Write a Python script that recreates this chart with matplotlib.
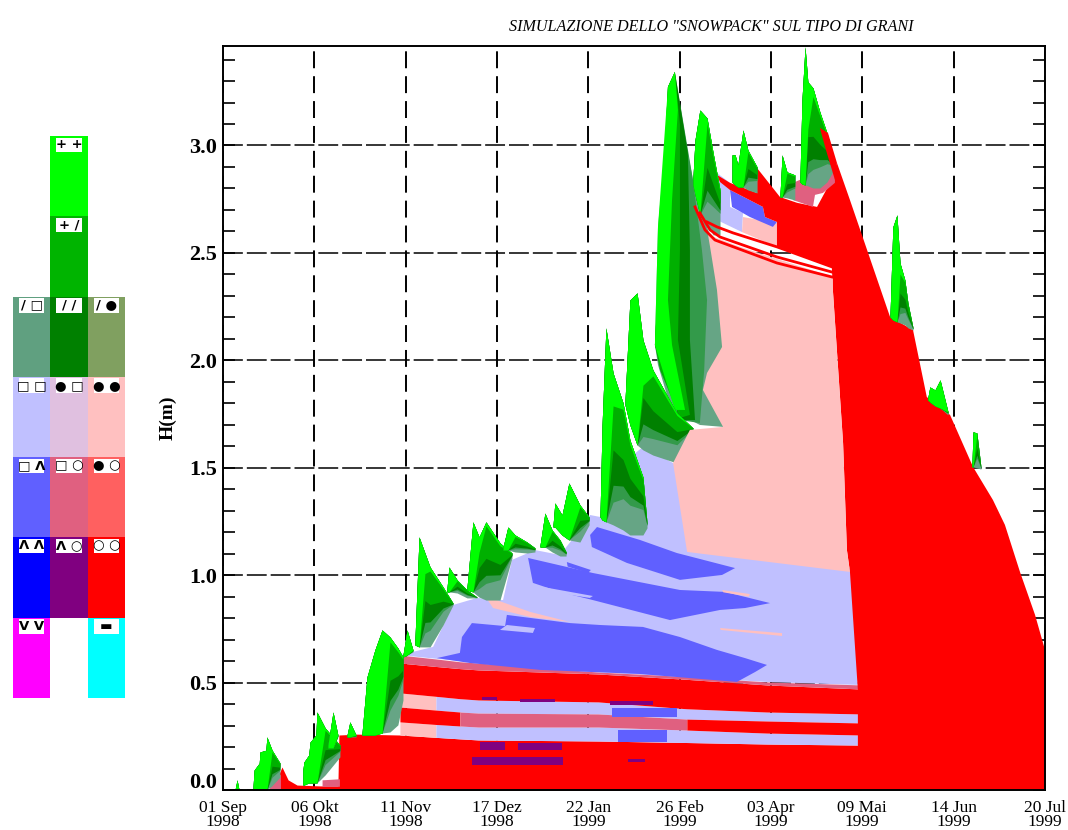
import numpy as np
import matplotlib
matplotlib.use("Agg")
import matplotlib.pyplot as plt
from matplotlib.ticker import MultipleLocator
from matplotlib.transforms import Affine2D

# ====== DATA (x = days since 01 Sep 1998, y = snow height in m) ======
tick_days = [0, 35.8, 71.6, 107.3, 143.1, 178.9, 214.7, 250.4, 286.2, 322]
tick_labels = ["01 Sep\n1998", "06 Okt\n1998", "11 Nov\n1998", "17 Dez\n1998", "22 Jan\n1999",
               "26 Feb\n1999", "03 Apr\n1999", "09 Mai\n1999", "14 Jun\n1999", "20 Jul\n1999"]
title = 'SIMULAZIONE DELLO "SNOWPACK" SUL TIPO DI GRANI'

# layer boundaries of the old snow at the bottom
band_days = np.array([69.3, 83.4, 92.8, 100, 147, 181.7, 213, 250])
b1 = np.array([.256, .245, .238, .233, .228, .221, .214, .209])
b2 = np.array([.317, .305, .298, .293, .293, .279, .265, .256])
b3 = np.array([.386, .372, .363, .358, .354, .330, .321, .312])
b4 = np.array([.452, .436, .425, .419, .410, .378, .363, .354])
b5 = np.array([.591, .575, .565, .559, .540, .515, .489, .470])
b6 = np.array([.628, .610, .597, .591, .549, .528, .503, .489])

early_days = [19.2, 23.1, 25.5, 29, 38, 45, 45.4, 52.5]
early_h = [0, .107, .047, .023, .019, .019, .256, .26]

lav_x = [69.3, 82.3, 90.1, 99.5, 109.7, 113.2, 122.2, 132.0, 139.8, 143.8, 147.7, 158.2, 164.5, 176.3, 186.8,
         248.7, 248.7, 213, 147, 100]
lav_h = [.628, .666, .861, .894, .884, 1.071, 1.117, 1.094, 1.210, 1.280, 1.271, 1.536, 1.597, 1.522, 1.35,
         1.015, .489, .503, .549, .591]

blue_a_x = [83.8, 92.8, 93.6, 97.5, 110.5, 111.2, 135.9, 147.7, 164.5, 179.0, 193.5, 204.5, 213.1, 208.4, 201.3, 163.3, 124.2, 96.8]
blue_a_h = [.614, .638, .712, .777, .763, .815, .777, .768, .759, .712, .652, .614, .582, .549, .503, .540, .559, .591]
blue_b_x = [119.5, 144.9, 179.0, 196.6, 214.3, 204.5, 194.7, 175.1, 144.9, 132.0, 121.4]
blue_b_h = [1.080, 1.010, .931, .922, .870, .847, .838, .791, .884, .922, .964]
blue_c_x = [146.5, 163.3, 177.8, 200.6, 195.5, 179.0, 158.2, 144.5, 143.8]
blue_c_h = [1.224, 1.164, 1.103, 1.033, 1.001, .978, 1.057, 1.131, 1.187]
blue_d_x = [134.7, 144.1, 143, 135]
blue_d_h = [1.061, 1.024, 1.01, 1.04]
blue_top_x = [198.6, 211.5, 212.3, 217, 215.4, 206.4, 199.4]
blue_top_h = [2.793, 2.714, 2.667, 2.644, 2.621, 2.667, 2.714]

lav2_x = [111.2, 122.2, 121.4, 108.5]
lav2_h = [.768, .754, .731, .745]
lav3_x = [125.3, 144.9, 143.7, 128.0]
lav3_h = [.945, .903, .894, .922]
lav_top_x = [193.5, 198.6, 198.6, 203.7, 203.3, 193.5]
lav_top_h = [2.872, 2.826, 2.714, 2.686, 2.597, 2.653]

salmon_a_x = [102.6, 120.3, 135.9, 120.3, 105.8]
salmon_a_h = [.903, .829, .782, .805, .847]
salmon_b_x = [195.5, 206.4, 206, 196]
salmon_b_h = [.931, .912, .90, .92]
salmon_c_x = [194.7, 219, 219, 195]
salmon_c_h = [.754, .73, .717, .745]
salmon_top_x = [203.7, 217, 217, 203.3]
salmon_top_h = [2.667, 2.639, 2.528, 2.597]

pink_x = [176.3, 182.9, 195.9, 188, 189.6, 195.5, 193.5, 190.8, 190, 202.5, 238.9, 238.9, 242.9, 244.4, 245.6, 181.8]
pink_h = [1.522, 1.676, 1.690, 1.862, 1.941, 2.062, 2.328, 2.528, 2.584, 2.528, 2.388, 2.328, 1.615, 1.117, 1.015, 1.108]

line1_x = [189.6, 193.5, 199.8, 217.0, 238.5]
line1_h = [2.644, 2.621, 2.593, 2.528, 2.435]
line2_x = [186.8, 190.8, 194.7, 217, 238.5]
line2_h = [2.686, 2.607, 2.574, 2.481, 2.411]
line3_x = [184.9, 188.8, 192.7, 217, 238.5]
line3_h = [2.714, 2.607, 2.560, 2.453, 2.388]

red_x = [193.5, 198.6, 209.2, 209.2, 218.2, 224.9, 232.7, 237.8, 240.5, 245.6, 261.3, 270.3, 275.7, 284.8, 293.8,
         301.6, 306.3, 312.2, 318.1, 322, 322, 248.7, 248.7, 245.6, 244.4, 242.9, 238.9, 238.5, 217, 217, 212.3,
         211.5, 198.6, 194.7]
red_h = [2.863, 2.826, 2.779, 2.895, 2.760, 2.733, 2.714, 2.826, 2.919, 2.746, 2.202, 2.141, 1.829, 1.746, 1.504,
         1.350, 1.234, 1.015, .815, .652, 0, 0, .466, 1.015, 1.117, 1.615, 2.328, 2.435, 2.528, 2.644, 2.667,
         2.714, 2.793, 2.830]
red_strip_x = [233.8, 237, 240.5, 239.7, 236.2]
red_strip_h = [3.082, 3.058, 2.919, 2.840, 2.979]

rose_top_x = [223.3, 226, 233.8, 237.8, 239.7, 239.7, 235, 231.9, 231.1, 223.3]
rose_top_h = [2.826, 2.840, 2.802, 2.872, 2.900, 2.826, 2.779, 2.770, 2.714, 2.746]
rose_a_x = [18.4, 22.7, 22.7, 18.4]
rose_a_h = [.056, .07, 0, 0]
rose_b_x = [39, 45.8, 45.8, 39]
rose_b_h = [.045, .05, .015, .015]

# small patches: day from, day to, H from, H to
purple_patches = [(101.5, 107.3, .419, .433), (100.7, 110.5, .186, .223), (97.5, 115.2, .116, .154),
                  (116.3, 130.0, .410, .424), (151.6, 168.4, .396, .414), (115.6, 132.8, .186, .219),
                  (114.4, 133.2, .116, .154), (158.6, 165.3, .130, .144)]
blue_patches = [(152.4, 177.8, .340, .382), (154.7, 173.9, .223, .279)]

# new snow peaks: days, surface, lower limit
peak_days = [
    [4.7, 5.5, 6.3], [11.8, 12.2, 14.2, 14.5, 16.8, 17.2, 19.2, 22.3],
    [31.3, 31.7, 33.6, 34.1, 36.4, 36.8, 40.0, 45.8], [41.1, 43.1, 45.0],
    [48.6, 49.7, 52.1], [54.4, 56.4, 59.5, 62.3, 65.4, 68.5, 70.5], [70.5, 72.1, 74.4],
    [75.2, 76.8, 79.1, 81.1, 86.2, 90.1], [87.7, 88.5, 91.7, 95.6, 99.5], [95.6, 97.9, 100.3, 103, 108.5, 113.2],
    [109.7, 111.6, 114.4, 119.1, 122.2], [124.2, 126.1, 128.9, 132, 134.4], [129.3, 130, 132.8, 135.5, 139.8, 143.4],
    [157.5, 159.4, 162.2, 164.5, 168.4, 177.8, 184.1],
    [147.7, 148.5, 150, 152.8, 156.7, 159.4, 164.5, 166.1],
    [184.1, 184.9, 186.8, 189.6, 192, 194.7], [199.4, 200.6, 201.7, 203.7, 205.6, 209.2],
    [218.2, 219, 220.9, 224], [226, 226.8, 228, 229.1, 231.1, 233.8, 236.6, 239.7],
    [261.3, 262.4, 264, 265.2, 267.1, 268.3, 270.3], [276.1, 276.9, 278.9, 280.9, 284], [293.4, 293.8, 295.3, 296.9],
]
peak_top = [
    [0, .047, 0], [.02, .093, .125, .177, .185, .247, .186, .126],
    [.093, .130, .163, .223, .256, .363, .289, .209], [.209, .363, .256],
    [.256, .317, .256], [.256, .526, .652, .745, .712, .661, .619], [.628, .745, .652],
    [.698, 1.178, 1.103, 1.038, .945, .870], [.931, 1.038, .978, .931, .898], [.945, 1.248, 1.178, 1.248, 1.150, 1.103],
    [1.131, 1.224, 1.187, 1.154, 1.127], [1.140, 1.289, 1.210, 1.164, 1.108], [1.234, 1.336, 1.280, 1.429, 1.327, 1.271],
    [1.815, 2.281, 2.314, 2.095, 1.955, 1.755, 1.685],
    [1.280, 1.699, 2.151, 1.941, 1.802, 1.629, 1.457, 1.243],
    [2.849, 3.026, 3.165, 3.128, 2.965, 2.793], [2.956, 2.956, 2.909, 3.072, 2.979, 2.900],
    [2.770, 2.956, 2.877, 2.863], [2.840, 3.212, 3.459, 3.296, 3.268, 3.156, 3.058, 2.919],
    [2.211, 2.621, 2.677, 2.453, 2.374, 2.267, 2.151], [1.825, 1.876, 1.862, 1.909, 1.760], [1.513, 1.667, 1.662, 1.504],
]
peak_bot = [
    [0, 0, 0], [0, 0, 0, 0, 0, 0, .02, .06],
    [.023, .023, .033, .033, .033, .033, .070, .154], [.196, .196, .247],
    [.247, .247, .247], [.256, .256, .256, .265, .270, .303, .419], [.619, .628, .642],
    [.675, .666, .666, .666, .768, .861], [.922, .922, .917, .894, .894], [.931, .922, .898, .884, .884, 1.080],
    [1.117, 1.117, 1.108, 1.103, 1.108], [1.131, 1.131, 1.108, 1.089, 1.089], [1.224, 1.224, 1.187, 1.164, 1.154, 1.234],
    [1.792, 1.699, 1.606, 1.583, 1.559, 1.522, 1.676],
    [1.271, 1.257, 1.248, 1.234, 1.210, 1.187, 1.187, 1.220],
    [2.816, 2.770, 2.677, 2.630, 2.584, 2.584], [2.830, 2.816, 2.807, 2.807, 2.793, 2.779],
    [2.760, 2.760, 2.756, 2.746], [2.830, 2.821, 2.816, 2.812, 2.802, 2.802, 2.830, 2.895],
    [2.202, 2.188, 2.179, 2.174, 2.165, 2.151, 2.141], [1.815, 1.806, 1.788, 1.778, 1.746], [1.504, 1.504, 1.499, 1.494],
]

# the tallest peak (end of February), its colours run nearly upright
tall_x = [169.2, 170.4, 173.9, 174.3, 177, 178.2, 182.1, 184.1, 189.6, 193.5, 195.9, 195.9, 186.8, 177, 173.9, 170.4]
tall_h = [2.071, 2.621, 3.072, 3.272, 3.342, 3.165, 2.965, 2.840, 2.621, 2.481, 2.341, 1.690, 1.699, 1.760, 1.839, 1.978]
tall_g2_x = [169.2, 174.3, 177, 184.1, 187.6, 189.6, 188.5, 186.8, 179]
tall_g2_h = [2.071, 3.272, 3.342, 2.840, 2.514, 2.281, 1.955, 1.708, 1.722]
tall_dark_x = [169.2, 174.3, 177, 182.1, 182.9, 182.9, 184.9, 179]
tall_dark_h = [2.071, 3.272, 3.342, 2.965, 2.514, 2.095, 1.722, 1.722]
tall_mid_x = [169.2, 174.3, 177, 179, 179, 178.2, 182.9, 179, 171.2]
tall_mid_h = [2.071, 3.272, 3.342, 3.096, 2.514, 2.095, 1.746, 1.732, 1.955]
tall_bright_x = [169.2, 170.4, 174.3, 177, 178.2, 175.9, 174.3, 175.9, 181, 177]
tall_bright_h = [2.071, 2.621, 3.272, 3.342, 3.165, 2.746, 2.281, 2.071, 1.769, 1.769]

# grain type legend, top row first, None = empty cell
legend_colors = [
    [None, "#00ff00", None],
    [None, "#00b400", None],
    ["#60a080", "#008000", "#80a060"],
    ["#c0c0ff", "#e0c0e0", "#ffc0c0"],
    ["#6060ff", "#e06080", "#ff6060"],
    ["#0000ff", "#800080", "#ff0000"],
    ["#ff00ff", None, "#00ffff"],
]
legend_symbols = [
    [None, "+ +", None],
    [None, "+ /", None],
    ["/ □", "/ /", "/ ●"],
    ["□ □", "● □", "● ●"],
    ["□ Λ", "□ ○", "● ○"],
    ["Λ Λ", "Λ ○", "○ ○"],
    ["V V", None, "▬"],
]
# ====================

RED = "#ff0000"
LAV = "#c0c0ff"
BLUE = "#6060ff"
SALMON = "#ffc0c0"
ROSE = "#e06080"
PURPLE = "#800080"

plt.rcParams['font.family'] = ['Liberation Serif', 'DejaVu Serif']


def draw_peak(ax, days, top, bot):
    # colours follow the depth below the surface, fresh snow stays on top
    days, top, bot = np.array(days), np.array(top), np.array(bot)
    ipk = np.argmax(top)
    t = np.clip((days - days[ipk]) / max(days[-1] - days[ipk], 1e-6), 0, 1)
    fb = np.maximum(.05, (1 - t) ** 8)
    fm = np.maximum(fb, .55 - .25 * t)
    fd = np.maximum(fm, .8 - .35 * t)
    fg = np.maximum(fd, .92 - .4 * t)
    depth = top - bot
    ax.fill_between(days, bot, top, color="#66a585", lw=0, zorder=4)
    ax.fill_between(days, top - depth * fg, top, color="#339a4a", lw=0, zorder=4)
    ax.fill_between(days, top - depth * fd, top, color="#008000", lw=0, zorder=4)
    ax.fill_between(days, top - depth * fm, top, color="#00b000", lw=0, zorder=4)
    ax.fill_between(days, top - depth * fb, top, color="#00ff00", lw=0, zorder=4)


fig = plt.figure(figsize=(10.68, 8.30), dpi=100)
ax = fig.add_axes([223 / 1068, 40 / 830, 822 / 1068, 744 / 830])
ax.set_xlim(0, 322)
ax.set_ylim(0, 3.463)

# old layers
body_x = np.concatenate([early_days, band_days])
body_h = np.concatenate([early_h, b1])
ax.fill_between(body_x, 0, body_h, color=RED, lw=0, zorder=2)
ax.fill(lav_x, lav_h, color=LAV, lw=0, zorder=2)
early = band_days <= 83.4
ax.fill_between(band_days, b1, b2, where=early, color=SALMON, lw=0, zorder=2)
ax.fill_between(band_days, b1, b2, where=~early | (band_days == 83.4), color=LAV, lw=0, zorder=2)
ax.fill_between(band_days, b3, b4, where=early, color=SALMON, lw=0, zorder=2)
ax.fill_between(band_days, b3, b4, where=~early | (band_days == 83.4), color=LAV, lw=0, zorder=2)
ax.fill_between(band_days, b2, b3, where=band_days <= 92.8, color=RED, lw=0, zorder=2)
ax.fill_between(band_days, b2, b3, where=(band_days >= 92.8) & (band_days <= 181.7), color=ROSE, lw=0, zorder=2)
ax.fill_between(band_days, b2, b3, where=band_days >= 181.7, color=RED, lw=0, zorder=2)
ax.fill_between(band_days, b4, b5, color=RED, lw=0, zorder=2)
ax.fill_between(band_days, b5, b6, color=ROSE, lw=0, zorder=2)

for xs, hs in [(blue_a_x, blue_a_h), (blue_b_x, blue_b_h), (blue_c_x, blue_c_h), (blue_d_x, blue_d_h)]:
    ax.fill(xs, hs, color=BLUE, lw=0, zorder=3)
for xs, hs in [(lav2_x, lav2_h), (lav3_x, lav3_h)]:
    ax.fill(xs, hs, color=LAV, lw=0, zorder=3)
for xs, hs in [(salmon_a_x, salmon_a_h), (salmon_b_x, salmon_b_h), (salmon_c_x, salmon_c_h)]:
    ax.fill(xs, hs, color=SALMON, lw=0, zorder=3)
for d0, d1, h0, h1 in purple_patches:
    ax.fill_between([d0, d1], h0, h1, color=PURPLE, lw=0, zorder=3)
for d0, d1, h0, h1 in blue_patches:
    ax.fill_between([d0, d1], h0, h1, color=BLUE, lw=0, zorder=3)
ax.fill(rose_a_x, rose_a_h, color=ROSE, lw=0, zorder=3)
ax.fill(rose_b_x, rose_b_h, color=ROSE, lw=0, zorder=3)

# upper part and the melting block
ax.fill(lav_top_x, lav_top_h, color=LAV, lw=0, zorder=3)
ax.fill(salmon_top_x, salmon_top_h, color=SALMON, lw=0, zorder=3)
ax.fill(blue_top_x, blue_top_h, color=BLUE, lw=0, zorder=3)
ax.fill(red_x, red_h, color=RED, lw=0, zorder=3)
ax.fill(rose_top_x, rose_top_h, color=ROSE, lw=0, zorder=3)

# tallest peak first, the later ones sit in front of it
ax.fill(tall_x, tall_h, color="#66a585", lw=0, zorder=4)
ax.fill(tall_g2_x, tall_g2_h, color="#339a4a", lw=0, zorder=4)
ax.fill(tall_dark_x, tall_dark_h, color="#008000", lw=0, zorder=4)
ax.fill(tall_mid_x, tall_mid_h, color="#00b000", lw=0, zorder=4)
ax.fill(tall_bright_x, tall_bright_h, color="#00ff00", lw=0, zorder=4)

for days, top, bot in zip(peak_days, peak_top, peak_bot):
    draw_peak(ax, days, top, bot)

ax.fill(pink_x, pink_h, color=SALMON, lw=0, zorder=5)
ax.fill(red_strip_x, red_strip_h, color=RED, lw=0, zorder=5)
for xs, hs in [(line1_x, line1_h), (line2_x, line2_h), (line3_x, line3_h)]:
    ax.plot(xs, hs, color=RED, lw=2.0, zorder=6)

# axes
ax.set_xticks(tick_days)
ax.set_xticklabels(tick_labels, fontsize=12.5, linespacing=0.85)
ax.yaxis.set_minor_locator(MultipleLocator(0.1))
ax.set_yticks([0, .5, 1, 1.5, 2, 2.5, 3])
ax.set_yticklabels(["0.0", "0.5", "1.0", "1.5", "2.0", "2.5", "3.0"], fontsize=16, fontweight="bold")
ax.tick_params(axis="x", length=0, pad=7)
ax.tick_params(axis="y", which="both", direction="in", left=True, right=True, length=8.6, width=1.2, pad=4)
zero_label = ax.get_yticklabels()[0]
zero_label.set_va("bottom")
zero_label.set_transform(zero_label.get_transform() + Affine2D().translate(0, -3))
ax.set_axisbelow(True)
ax.xaxis.grid(True, color="black", lw=1.4, linestyle=(0, (8.7, 4.1)), zorder=1)
ax.yaxis.grid(True, which="major", color="black", lw=1.1, linestyle=(0, (13, 2.6)), zorder=1)
for sp in ax.spines.values():
    sp.set_linewidth(1.4)
    sp.set_zorder(7)
ax.set_ylabel("H(m)", fontsize=14, fontweight="bold", labelpad=9)
fig.text(711 / 1068, 1 - 27 / 830, title, fontsize=11.6, fontstyle="italic", ha="center", va="center")

# legend
leg = fig.add_axes([13 / 1068, 132 / 830, 112 / 1068, 562 / 830])
leg.set_xlim(0, 3)
leg.set_ylim(7, 0)
leg.axis("off")
for r, row in enumerate(legend_colors):
    for c, col in enumerate(row):
        if col is None:
            continue
        leg.bar(c + .5, 1, width=1, bottom=r, color=col, lw=0)
        leg.bar(c + .5, .18, width=.68, bottom=r + .02, color="white", lw=0)
        leg.text(c + .5, r + .105, legend_symbols[r][c], ha="center", va="center", fontsize=9.5,
                 family=["DejaVu Sans"], fontweight="bold")

plt.savefig("out.png", dpi=100)
